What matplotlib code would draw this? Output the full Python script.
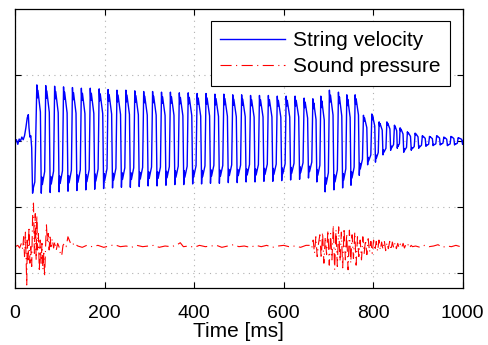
import numpy as np
import matplotlib
matplotlib.use('Agg')
import matplotlib.pyplot as plt
from matplotlib import rc

rc('font', family=['Liberation Sans', 'DejaVu Sans'], size=14)

# =============================================================================
# Data (time in ms, y in plot units)
# =============================================================================
# string velocity: lead-in before the first slip
lead_t = [0, 3, 6, 9, 12, 15, 18, 21, 24, 27, 29.5, 31, 33, 35, 37, 39, 41, 44]
lead_v = [1.97, 2.02, 1.95, 2.03, 2.00, 2.06, 2.02, 2.08, 2.20, 2.35, 2.40, 2.20,
          2.06, 2.08, 1.90, 1.21, 1.30, 1.38]

# peak time of every cycle, its top value and the trough that follows
peak_t = [48.5, 68.4, 88.3, 108.2, 128.1, 148.0, 167.9, 187.8, 207.7, 227.6,
          247.5, 267.4, 287.3, 307.2, 327.1, 347.0, 366.9, 386.8, 406.7, 426.6,
          446.5, 466.4, 486.3, 506.2, 526.1, 546.0, 565.9, 585.8, 605.7, 625.6,
          645.8, 665.3, 683.1, 702.3, 722.5, 741.2, 759.8, 778.4, 797.1, 813.4,
          830.7, 847.7, 860.3, 876.6, 893.9, 910, 926, 942, 958, 974, 990]
peak_top = [2.85, 2.84, 2.83, 2.82, 2.81, 2.80, 2.80, 2.79, 2.78, 2.77,
            2.77, 2.76, 2.75, 2.75, 2.74, 2.74, 2.73, 2.73, 2.72, 2.72,
            2.71, 2.71, 2.70, 2.70, 2.69, 2.69, 2.69, 2.68, 2.68, 2.68,
            2.65, 2.64, 2.68, 2.77, 2.74, 2.70, 2.70, 2.39, 2.41, 2.29,
            2.29, 2.24, 2.20, 2.14, 2.12, 2.08, 2.07, 2.08, 2.06, 2.07, 2.05]
peak_bot = [1.21, 1.22, 1.23, 1.24, 1.25, 1.26, 1.27, 1.28, 1.29, 1.30,
            1.30, 1.31, 1.32, 1.32, 1.33, 1.34, 1.34, 1.35, 1.35, 1.36,
            1.36, 1.37, 1.37, 1.38, 1.38, 1.39, 1.39, 1.40, 1.41, 1.42,
            1.44, 1.38, 1.23, 1.26, 1.29, 1.33, 1.48, 1.64, 1.68, 1.79,
            1.86, 1.89, 1.83, 1.86, 1.89, 1.92, 1.93, 1.94, 1.93, 1.94, 1.95]
end_t, end_v = 1000, 2.0

# sound pressure: quiet stretches
quiet1_t = [140, 150, 160, 172, 185, 198, 210, 222, 235, 248, 260, 272, 285, 298,
            310, 322, 335, 348, 360, 369, 376, 388, 400, 412, 425, 438, 450, 462,
            475, 488, 500, 512, 525, 538, 550, 562, 575, 588, 600, 612, 625, 638, 650, 660]
quiet1_v = [0.41, 0.39, 0.42, 0.40, 0.42, 0.39, 0.41, 0.43, 0.40, 0.41, 0.39, 0.42,
            0.40, 0.41, 0.42, 0.39, 0.41, 0.40, 0.42, 0.46, 0.40, 0.41, 0.39, 0.42,
            0.40, 0.41, 0.42, 0.39, 0.41, 0.43, 0.40, 0.41, 0.39, 0.42, 0.40, 0.42,
            0.39, 0.41, 0.42, 0.40, 0.41, 0.39, 0.42, 0.42]
# first burst (attack transient)
burst1_t = [0, 6, 10, 14, 17, 19, 21, 23, 25, 26, 27, 29, 31, 33, 35, 37, 39, 41, 43,
            45, 47, 48.5, 50, 52, 54, 56, 58, 60, 62, 64, 66, 68, 70, 72, 74, 76, 78,
            80, 83, 86, 89, 92, 95, 98, 101, 104, 107, 110, 114, 118, 121, 124, 128,
            132, 136]
burst1_v = [0.40, 0.42, 0.38, 0.45, 0.36, 0.55, 0.25, 0.62, 0.05, -0.18, 0.50, 0.20,
            0.70, 0.15, 0.40, 0.10, 0.85, 1.06, 0.30, 0.90, 0.20, 0.88, 0.35, 0.60,
            0.02, 0.50, 0.15, 0.45, 0.05, 0.30, -0.05, 0.40, 0.73, 0.45, 0.60, 0.35,
            0.58, 0.40, 0.52, 0.38, 0.48, 0.35, 0.45, 0.40, 0.30, 0.26, 0.42, 0.45,
            0.40, 0.55, 0.50, 0.45, 0.47, 0.41, 0.43]
# second burst (release), sampled every 3 ms from 663 ms
burst2_t0, burst2_dt = 663, 3
burst2_v = [0.38, 0.50, 0.30, 0.55, 0.25, 0.45, 0.58, 0.22, 0.62, 0.15,
            0.55, 0.28, 0.65, 0.12, 0.60, 0.20, 0.73, 0.05, 0.66, 0.10,
            0.70, 0.18, 0.62, 0.08, 0.68, 0.20, 0.60, 0.05, 0.65, 0.15,
            0.58, 0.22, 0.62, 0.12, 0.55, 0.25, 0.50, 0.20, 0.55, 0.30,
            0.50, 0.28, 0.52, 0.32, 0.48, 0.30, 0.50, 0.34, 0.48, 0.33,
            0.50, 0.35, 0.47, 0.36, 0.49, 0.34, 0.46, 0.37, 0.48, 0.35,
            0.47, 0.38, 0.46, 0.37, 0.45, 0.38, 0.44, 0.39, 0.45, 0.38,
            0.43, 0.40, 0.44, 0.39, 0.42, 0.40]
quiet2_t = [895, 905, 915, 925, 935, 945, 955, 965, 975, 985, 995, 1000]
quiet2_v = [0.41, 0.39, 0.42, 0.40, 0.41, 0.43, 0.39, 0.41, 0.40, 0.42, 0.40, 0.41]

# =============================================================================
# Build the velocity trace (stick-slip shape within each cycle)
# =============================================================================
shape_ph = [0.0, 0.06, 0.12, 0.40, 0.50, 0.56, 0.62, 0.88]
vel_t = list(lead_t); vel_v = list(lead_v)
for k in range(len(peak_t)):
    t0 = peak_t[k]
    T = (peak_t[k+1] if k+1 < len(peak_t) else end_t + 10) - t0
    top = peak_top[k]; bot = peak_bot[k]; amp = top - bot
    vals = [top, top-0.12*amp, top-0.05*amp, top-0.25*amp,
            bot, bot+0.15*amp, bot+0.08*amp, bot+0.20*amp]
    for p, v in zip(shape_ph, vals):
        if t0 + p*T <= end_t:
            vel_t.append(t0 + p*T); vel_v.append(v)
vel_t.append(end_t); vel_v.append(end_v)

burst2_t = [burst2_t0 + i*burst2_dt for i in range(len(burst2_v))]
snd_t = burst1_t + quiet1_t + burst2_t + quiet2_t
snd_v = burst1_v + quiet1_v + burst2_v + quiet2_v

# =============================================================================
# Plot
# =============================================================================
fig = plt.figure(figsize=(4.88, 3.45), dpi=100)
ax = fig.add_axes([0.031, 0.165, 0.917, 0.809])
ax.plot(vel_t, vel_v, color='b', lw=1.0, label='String velocity')
ax.plot(snd_t, snd_v, color='r', lw=0.8, linestyle=(0, (10, 4, 1, 4)),
        label='Sound pressure')

ax.set_xlim(0, 1000)
ax.set_ylim(-0.227, 4.0)
ax.set_xticks([0, 200, 400, 600, 800, 1000])
ax.set_yticks([0, 1, 2, 3])
ax.set_yticklabels([])
ax.tick_params(direction='in', top=True, right=True, length=4, width=0.8, pad=12)
ax.grid(True, linestyle=(0, (1, 4)), color='#b0b0b0', lw=0.8)
for s in ax.spines.values():
    s.set_linewidth(0.9)
ax.set_xlabel('Time [ms]', fontsize=15, labelpad=0)

leg = ax.legend(loc='upper right', fancybox=False, edgecolor='k', framealpha=1,
                fontsize=15, handlelength=3.1, handletextpad=0.4, borderaxespad=0.6,
                labelspacing=0.35, borderpad=0.45)
leg.get_frame().set_linewidth(0.8)

plt.savefig('out.png', dpi=100)
